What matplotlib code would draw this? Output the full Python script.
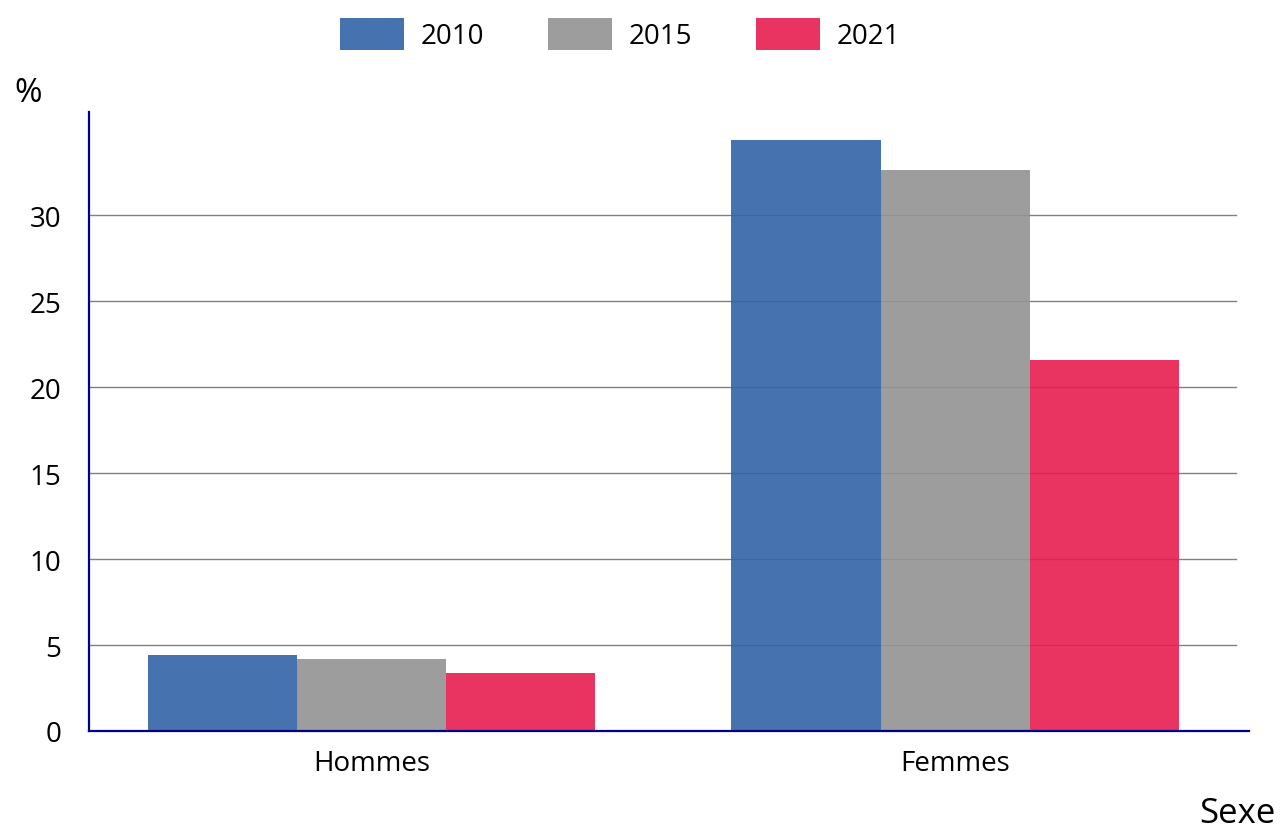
import numpy as np
import matplotlib.pyplot as plt

plt.rcParams['font.family'] = ['Open Sans', 'DejaVu Sans']

categories = ['Hommes', 'Femmes']
years = ['2010', '2015', '2021']
v2010 = [4.4, 34.4]
v2015 = [4.2, 32.6]
v2021 = [3.4, 21.6]
colors = ['#3263A8', '#939393', '#E71D4F']
yticks = [0, 5, 10, 15, 20, 25, 30]

fig = plt.figure(figsize=(12.83, 8.37), dpi=100)
ax = fig.add_axes([89/1283, 105/837, 1160/1283, 619/837])

x = np.arange(len(categories))
w = 0.2556
for i, (vals, lab, c) in enumerate(zip([v2010, v2015, v2021], years, colors)):
    ax.bar(x + (i - 1) * w, vals, w, color=c, alpha=0.9, label=lab, zorder=3)

for t in yticks[1:]:
    ax.axhline(t, xmin=0, xmax=0.989, color='#808080', lw=1, zorder=1)

ax.set_xlim(-0.485, 1.504)
ax.set_ylim(0, 36)
ax.set_yticks(yticks)
ax.set_xticks(x)
ax.set_xticklabels(categories)
ax.tick_params(length=0, labelsize=20)
ax.tick_params(axis='y', pad=20)
ax.tick_params(axis='x', pad=13)
for s in ['top', 'right']:
    ax.spines[s].set_visible(False)
for s in ['left', 'bottom']:
    ax.spines[s].set_color('#00008B')
    ax.spines[s].set_linewidth(1.6)
    ax.spines[s].set_zorder(4)

fig.text(14/1283, 1 - 102/837, '%', fontsize=24)
fig.text(1276/1283, 6/837, 'Sexe', fontsize=25, ha='right', va='bottom')

fig.legend(loc='upper center', bbox_to_anchor=(620/1283, 1.0), ncol=3, frameon=False,
           fontsize=20, handlelength=2.3, handleheight=1.35, handletextpad=0.6,
           columnspacing=2.3, borderaxespad=0.3)

fig.savefig('out.png', dpi=100)
